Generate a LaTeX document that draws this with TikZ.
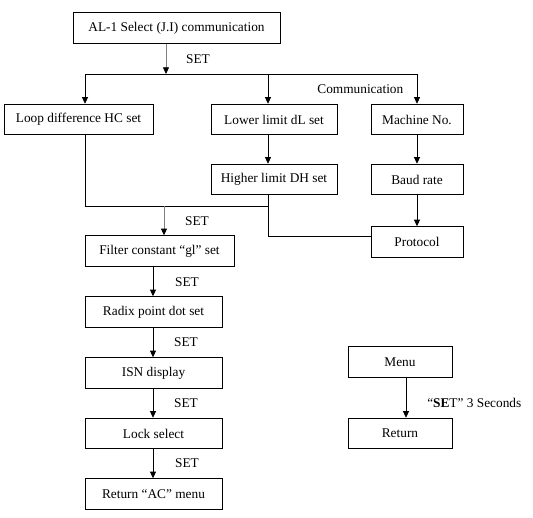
\documentclass[tikz,border=0pt]{standalone}
\usepackage{fontspec}
\setmainfont{Liberation Serif}
\usetikzlibrary{arrows.meta}
\begin{document}
\begin{tikzpicture}[x=0.75pt, y=-0.75pt, font=\fontsize{10}{12}\selectfont,
  box/.style={draw, line width=0.6pt, minimum height=23pt, inner sep=0pt},
  arr/.style={line width=0.6pt, -{Triangle[length=5pt,width=4.5pt]}},
  garr/.style={line width=0.6pt, draw=gray, -{Triangle[length=5pt,width=4.5pt,color=black]}},
  link/.style={line width=0.6pt}]

    \useasboundingbox (0,0) rectangle (533,518);

    % top and first row
    \node[box, minimum width=155.25pt] (al) at (176.5,28) {AL-1 Select (J.I) communication};
    \node[box, minimum width=111.75pt] (loop) at (78.5,119.5) {Loop difference HC set};
    \node[box, minimum width=94.5pt] (lower) at (274,119.5) {Lower limit dL set};
    \node[box, minimum width=69pt] (machine) at (417,119.5) {Machine No.};

    % second row
    \node[box, minimum width=94.5pt] (higher) at (274,179.5) {Higher limit DH set};
    \node[box, minimum width=69pt] (baud) at (417,179.5) {Baud rate};
    \node[box, minimum width=69pt] (protocol) at (417,242) {Protocol};

    % left chain
    \node[box, minimum width=111.75pt] (filter) at (159.5,251) {Filter constant “gl” set};
    \node[box, minimum width=102.75pt] (radix) at (153.5,312) {Radix point dot set};
    \node[box, minimum width=102.75pt] (isn) at (153.5,373) {ISN display};
    \node[box, minimum width=102.75pt] (lock) at (153.5,433.5) {Lock select};
    \node[box, minimum width=102.75pt] (retac) at (153.5,494) {Return “AC” menu};

    % legend
    \node[box, minimum width=78pt] (menu) at (400,362) {Menu};
    \node[box, minimum width=78pt] (ret) at (400,433.5) {Return};

    % split from the top box
    \coordinate (split) at (166,74);
    \coordinate (busL) at (85,74);
    \coordinate (busM) at (268,74);
    \coordinate (busR) at (417,74);
    \draw[garr] (al.south -| split) -- (split);
    \draw[link] (busL) -- (busR);
    \draw[arr] (busL) -- (loop.north -| busL);
    \draw[arr] (busM) -- (lower.north -| busM);
    \draw[arr] (busR) -- (machine.north);
    \node (set1) at (198,59) {SET};
    \node[anchor=east] (comm) at (408,89) {Communication};

    \draw[arr] (lower.south -| busM) -- (higher.north -| busM);
    \draw[arr] (machine.south) -- (baud.north);
    \draw[arr] (baud.south) -- (protocol.north);

    % joins back to the chain
    \coordinate (joinL) at (85,206);
    \coordinate (joinR) at (268,206);
    \coordinate (protoL) at (268,236);
    \draw[link] (loop.south -| joinL) -- (joinL) -- (joinR);
    \draw[link] (higher.south -| protoL) -- (protoL) -- (protocol.west |- protoL);
    \coordinate (split2) at (164,206);
    \draw[garr] (split2) -- (filter.north -| split2);
    \node (set2) at (197,221) {SET};

    % chain arrows
    \coordinate (chain) at (153,0);
    \foreach \a/\b in {filter/radix, radix/isn, isn/lock, lock/retac}
      \draw[arr] (\a.south -| chain) -- (\b.north -| chain);
    \node (set3) at (187,282) {SET};
    \node (set4) at (186,342) {SET};
    \node (set5) at (186,403) {SET};
    \node (set6) at (187,463) {SET};

    % legend arrow
    \coordinate (mx) at (406,0);
    \draw[arr] (menu.south -| mx) -- (ret.north -| mx);
    \node[anchor=west, inner sep=0pt] (hold) at (427,403) {“\textbf{SE}T” 3 Seconds};

\end{tikzpicture}
\end{document}
